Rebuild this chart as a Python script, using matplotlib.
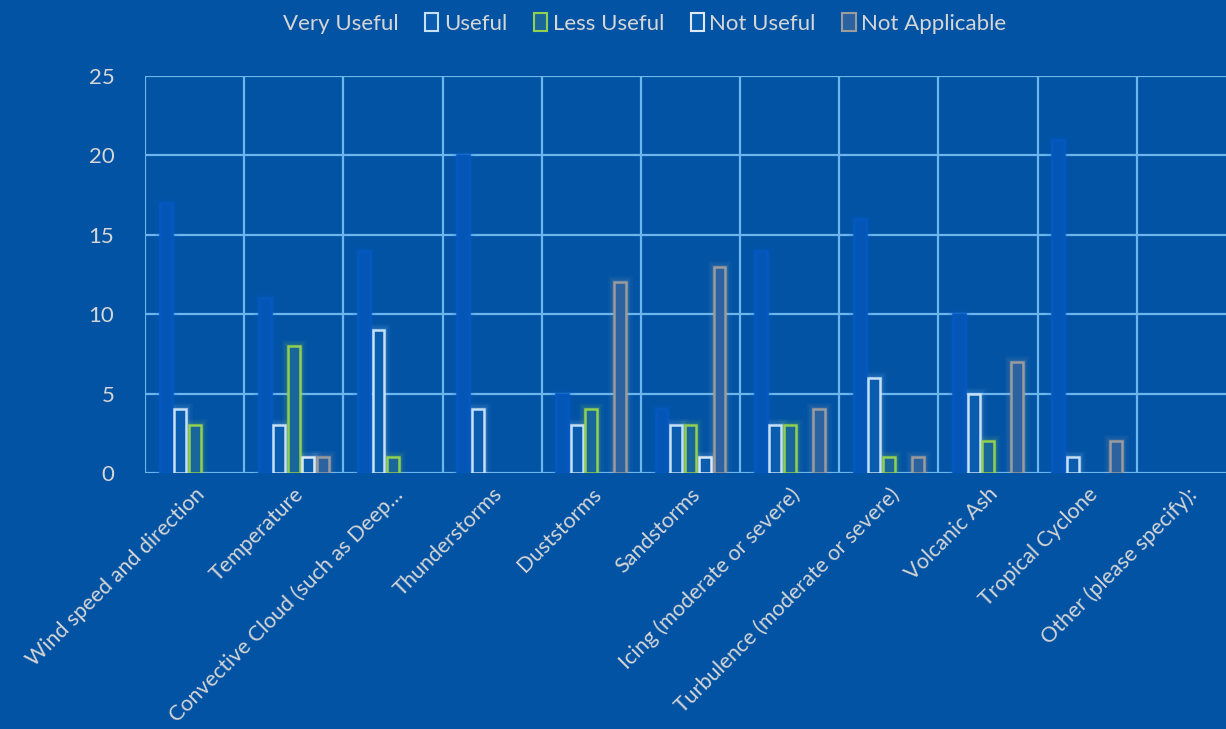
import numpy as np
import matplotlib.pyplot as plt
from matplotlib.patches import Patch

categories = [
    "Wind speed and direction",
    "Temperature",
    "Convective Cloud (such as Deep\u2026",
    "Thunderstorms",
    "Duststorms",
    "Sandstorms",
    "Icing (moderate or severe)",
    "Turbulence (moderate or severe)",
    "Volcanic Ash",
    "Tropical Cyclone",
    "Other (please specify):",
]
series_names = ["Very Useful", "Useful", "Less Useful", "Not Useful", "Not Applicable"]
very_useful = [17, 11, 14, 20, 5, 4, 14, 16, 10, 21, 0]
useful = [4, 3, 9, 4, 3, 3, 3, 6, 5, 1, 0]
less_useful = [3, 8, 1, 0, 4, 3, 3, 1, 2, 0, 0]
not_useful = [0, 1, 0, 0, 0, 1, 0, 0, 0, 0, 0]
not_applicable = [0, 1, 0, 0, 12, 13, 4, 1, 7, 2, 0]
y_ticks = [0, 5, 10, 15, 20, 25]

bg = "#0253a4"
grid_col = "#6cb6ee"
text_col = "#d6d6d6"
# (fill, edge, glow) per series
styles = [
    ("#0456b6", "#0558c0", "#0a60d8"),
    ("#0a5cae", "#c6e0f7", "#9fd0ff"),
    ("#19679a", "#92d050", "#92d050"),
    ("#0a5cae", "#dfe9f5", "#c0dcff"),
    ("#2c62a0", "#9c9c9c", "#b0b0b0"),
]

plt.rcParams["font.family"] = ["Lato", "DejaVu Sans"]

fig = plt.figure(figsize=(12.26, 7.29), dpi=100, facecolor=bg)
ax = fig.add_axes([145 / 1226, 1 - 473 / 729, (1236 - 145) / 1226, (473 - 76) / 729])
ax.set_facecolor(bg)

x = np.arange(len(categories))
values = [very_useful, useful, less_useful, not_useful, not_applicable]
width = 0.12
step = 0.146
offsets = (np.arange(5) - 2) * step

for vals, off, (fc, ec, gc) in zip(values, offsets, styles):
    vals = np.array(vals, dtype=float)
    keep = vals > 0  # empty answers draw nothing
    xs = (x + off)[keep]
    hs = vals[keep]
    # soft glow around each bar
    for lw, a in [(9, 0.05), (6, 0.08), (3.5, 0.12)]:
        ax.bar(xs, hs, width=width, color="none", edgecolor=gc,
               linewidth=lw, alpha=a, zorder=2)
    ax.bar(xs, hs, width=width, color=fc, edgecolor=ec,
           linewidth=1.8, zorder=3)

ax.set_xlim(-0.5, len(categories) - 0.5)
ax.set_ylim(0, 25)
ax.set_yticks(y_ticks)
ax.set_xticks(x)
ax.set_xticklabels(categories, rotation=45, ha="right", va="top",
                   rotation_mode="anchor", color=text_col, fontsize=15.5)
ax.tick_params(axis="x", length=0, pad=8)
ax.tick_params(axis="y", length=0, pad=22, labelcolor=text_col, labelsize=16)

for yv in y_ticks:
    ax.axhline(yv, color=grid_col, linewidth=1.6, zorder=1)
for xv in np.arange(-0.5, len(categories) - 1, 1.0):
    ax.axvline(xv, color=grid_col, linewidth=1.6, zorder=1)
for s in ax.spines.values():
    s.set_visible(False)

handles = [Patch(facecolor=fc, edgecolor=ec, linewidth=1.5) for fc, ec, gc in styles]
handles[0] = Patch(facecolor=bg, edgecolor=bg, linewidth=0)
leg = fig.legend(handles, series_names, loc="center", bbox_to_anchor=(0.518, 0.968),
                 ncol=5, frameon=False, fontsize=16, handlelength=0.6,
                 handleheight=0.9, handletextpad=0.25, columnspacing=1.2)
for t in leg.get_texts():
    t.set_color(text_col)

fig.savefig("out.png", facecolor=bg)
